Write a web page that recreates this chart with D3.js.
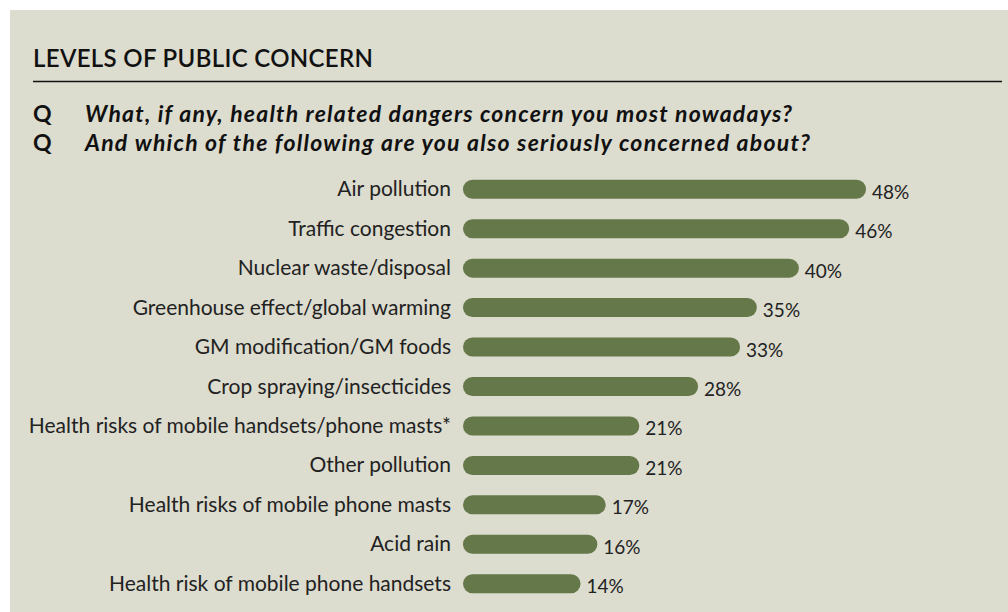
<!DOCTYPE html>
<html>
<head>
<meta charset="utf-8">
<script src="https://cdn.jsdelivr.net/npm/d3@7"></script>
<style>
  html, body { margin: 0; padding: 0; background: #ffffff; }
  svg { display: block; }
</style>
</head>
<body>
<svg id="chart" width="1008" height="612"></svg>
<script>
// Survey answers: share of respondents concerned about each danger
const categories = [
  "Air pollution",
  "Traffic congestion",
  "Nuclear waste/disposal",
  "Greenhouse effect/global warming",
  "GM modification/GM foods",
  "Crop spraying/insecticides",
  "Health risks of mobile handsets/phone masts*",
  "Other pollution",
  "Health risks of mobile phone masts",
  "Acid rain",
  "Health risk of mobile phone handsets"
];
const values = [48, 46, 40, 35, 33, 28, 21, 21, 17, 16, 14];

const title = "LEVELS OF PUBLIC CONCERN";
const questions = [
  "What, if any, health related dangers concern you most nowadays?",
  "And which of the following are you also seriously concerned about?"
];
const questionWidths = [707, 725];

const W = 1008, H = 612;
const font = "Lato, 'Open Sans', sans-serif";
const svg = d3.select("#chart");

// panel background
svg.append("rect")
  .attr("x", 10).attr("y", 10)
  .attr("width", W - 10).attr("height", H - 10)
  .attr("fill", "#dcdccf");

// heading and rule
svg.append("text")
  .attr("x", 33).attr("y", 66.5)
  .attr("font-family", font).attr("font-size", 24).attr("font-weight", 600)
  .attr("textLength", 340).attr("lengthAdjust", "spacing")
  .attr("fill", "#111")
  .text(title);

svg.append("line")
  .attr("x1", 33).attr("x2", 1002)
  .attr("y1", 81.5).attr("y2", 81.5)
  .attr("stroke", "#111").attr("stroke-width", 1.3);

// question lines
const qg = svg.append("g")
  .attr("font-family", font).attr("font-size", 23)
  .attr("font-weight", 700).attr("font-style", "italic").attr("fill", "#111");
questions.forEach((q, i) => {
  const y = 121.5 + i * 29.5;
  qg.append("text").attr("x", 33).attr("y", y).attr("font-style", "normal").text("Q");
  qg.append("text").attr("x", 85).attr("y", y)
    .attr("textLength", questionWidths[i]).attr("lengthAdjust", "spacing")
    .text(q);
});

// scales
const x = d3.scaleLinear().domain([0, 48]).range([463, 866]);
const y = d3.scaleBand()
  .domain(categories)
  .range([169.5, 603.5])
  .paddingInner(0.5)
  .paddingOuter(0.25);

const barH = 19;
const rows = svg.append("g");

rows.selectAll("rect.bar")
  .data(categories)
  .join("rect")
  .attr("class", "bar")
  .attr("x", x(0))
  .attr("y", (d) => y(d) + y.bandwidth() / 2 - barH / 2)
  .attr("width", (d, i) => x(values[i]) - x(0))
  .attr("height", barH)
  .attr("rx", 9.5).attr("ry", 9.5)
  .attr("fill", "#657849");

rows.selectAll("text.cat")
  .data(categories)
  .join("text")
  .attr("class", "cat")
  .attr("x", 451)
  .attr("y", (d) => y(d) + y.bandwidth() / 2 + 7)
  .attr("text-anchor", "end")
  .attr("font-family", font).attr("font-size", 21)
  .attr("fill", "#222")
  .text((d) => d);

rows.selectAll("text.val")
  .data(categories)
  .join("text")
  .attr("class", "val")
  .attr("x", (d, i) => x(values[i]) + 6)
  .attr("y", (d) => y(d) + y.bandwidth() / 2 + 9.5)
  .attr("font-family", font).attr("font-size", 19)
  .attr("fill", "#222")
  .text((d, i) => values[i] + "%");
</script>
</body>
</html>
